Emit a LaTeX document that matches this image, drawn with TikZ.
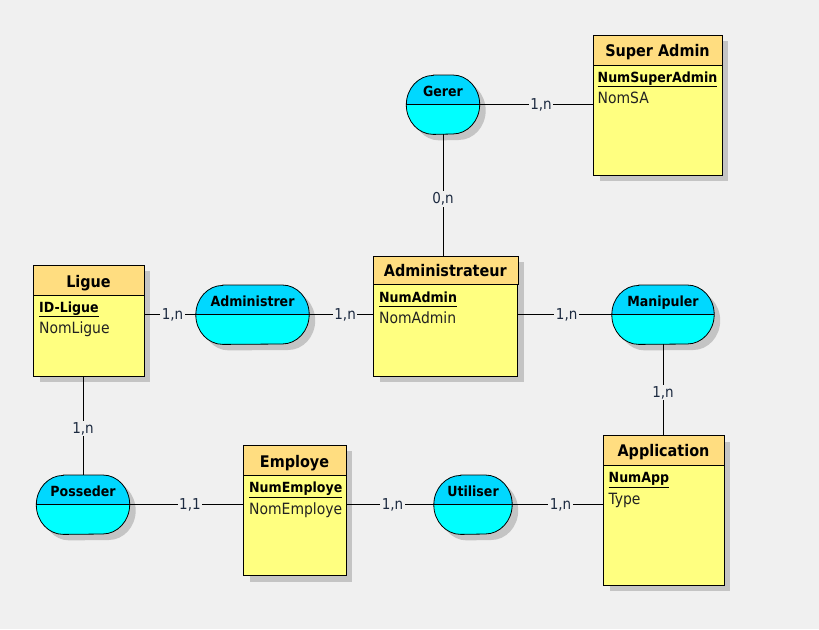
\documentclass[tikz,border=0pt]{standalone}
\usepackage{fontspec}
\setmainfont{DejaVu Sans Condensed}
\usetikzlibrary{shadows,calc}
\definecolor{bgc}{HTML}{F0F0F0}
\definecolor{headc}{HTML}{FFDD80}
\definecolor{bodyc}{HTML}{FFFF80}
\definecolor{atop}{HTML}{00D8FF}
\definecolor{abot}{HTML}{00FFFF}
\definecolor{shadowc}{HTML}{C4C4C4}
\definecolor{attrc}{HTML}{222222}
\definecolor{cardc}{HTML}{1C2A40}
\tikzset{
  myshadow/.style={drop shadow={shadow xshift=6pt,shadow yshift=-6pt,fill=shadowc,opacity=1}},
  entbody/.style={draw=black,fill=bodyc,inner sep=0pt,anchor=north west,myshadow},
  enthead/.style={draw=black,fill=headc},
  enttitle/.style={font=\bfseries\fontsize{16}{16}\selectfont,inner sep=0pt,anchor=base},
  attr/.style={font=\fontsize{15.5}{15.5}\selectfont,inner sep=0pt,anchor=base west,text=attrc},
  keyattr/.style={font=\bfseries\fontsize{14}{14}\selectfont,inner sep=0pt,anchor=base west,text=black},
  assocbox/.style={inner sep=0pt,minimum height=59pt},
  assocname/.style={font=\bfseries\fontsize{14}{14}\selectfont,inner sep=0pt,anchor=base},
  conn/.style={draw=black,line width=0.8pt},
  card/.style={font=\fontsize{15}{15}\selectfont,fill=bgc,text=cardc,inner sep=1.5pt},
}
% association outline: node name, x shift, y shift
\newcommand\ashapepath[3]{($(#1.north west)+(27+#2,#3)$) -- ($(#1.north east)+(-27+#2,#3)$)
  arc[start angle=-90,end angle=90,x radius=27,y radius=29.5]
  -- ($(#1.south west)+(27+#2,#3)$)
  arc[start angle=90,end angle=270,x radius=27,y radius=29.5] -- cycle}
\newcommand\assocdraw[2]{%
  \fill[shadowc] \ashapepath{#1}{6}{6};
  \fill[abot] \ashapepath{#1}{0}{0};
  \begin{scope}
    \clip \ashapepath{#1}{0}{0};
    \fill[atop] (#1.north west) rectangle (#1.east);
  \end{scope}
  \draw[line width=0.8pt] (#1.west) -- (#1.east);
  \draw[line width=0.8pt] \ashapepath{#1}{0}{0};
  \node[assocname] (#1T) at ($(#1.north)+(0,21)$) {#2};
}
\begin{document}
\begin{tikzpicture}[x=1pt,y=-1pt]
\fill[bgc] (0,0) rectangle (819,629);
\useasboundingbox (0,0) rectangle (819,629);

% ---------- Entities ----------
% Super Admin
\node[entbody,minimum width=128.4pt,minimum height=140pt] (superadmin) at (593.3,35) {};
\draw[enthead] (superadmin.north west) rectangle (superadmin.east |- 0,65);
\node[enttitle] (saT) at (657.5,56.5) {Super Admin};
\node[keyattr] (saK) at (597.5,82) {\underline{NumSuperAdmin}};
\node[attr] (saA) at (597.5,103.8) {NomSA};

% Ligue
\node[entbody,minimum width=110.4pt,minimum height=110.7pt] (ligue) at (33.3,265) {};
\draw[enthead] (ligue.north west) rectangle (ligue.east |- 0,295);
\node[enttitle] (liT) at (88.5,287.5) {Ligue};
\node[keyattr] (liK) at (39,312) {\underline{ID-Ligue\vphantom{p}}};
\node[attr] (liA) at (39,333.5) {NomLigue};

% Administrateur
\node[entbody,minimum width=144pt,minimum height=120pt] (admin) at (373.3,255.7) {};
\draw[enthead] (admin.north west) rectangle (admin.east |- 0,284.3);
\node[enttitle] (adT) at (445.3,276.8) {Administrateur};
\node[keyattr] (adK) at (379,302) {\underline{NumAdmin\vphantom{p}}};
\node[attr] (adA) at (379,323.8) {NomAdmin};

% Employe
\node[entbody,minimum width=102.4pt,minimum height=130.3pt] (employe) at (243.3,445) {};
\draw[enthead] (employe.north west) rectangle (employe.east |- 0,475);
\node[enttitle] (emT) at (294.5,467.5) {Employe};
\node[keyattr] (emK) at (249,492.6) {\underline{NumEmploye}};
\node[attr] (emA) at (249,514) {NomEmploye};

% Application
\node[entbody,minimum width=120.4pt,minimum height=149.7pt] (appli) at (603.3,435.3) {};
\draw[enthead] (appli.north west) rectangle (appli.east |- 0,465);
\node[enttitle] (apT) at (663.5,456.8) {Application};
\node[keyattr] (apK) at (608.5,482.6) {\underline{NumApp}};
\node[attr] (apA) at (608.5,504) {Type};

% ---------- Associations ----------
\node[assocbox,minimum width=73pt] (gerer) at (443,104.7) {};
\assocdraw{gerer}{Gerer}

\node[assocbox,minimum width=113pt] (administrer) at (252.5,314.7) {};
\assocdraw{administrer}{Administrer}

\node[assocbox,minimum width=102pt] (manipuler) at (663,314.7) {};
\assocdraw{manipuler}{Manipuler}

\node[assocbox,minimum width=93pt] (posseder) at (83,504.7) {};
\assocdraw{posseder}{Posseder}

\node[assocbox,minimum width=78pt] (utiliser) at (473,504.7) {};
\assocdraw{utiliser}{Utiliser}

% ---------- Connectors ----------
\draw[conn] (gerer.east) -- node[card,pos=0.54]{1,n} (superadmin.west |- gerer.east);
\draw[conn] (gerer.south) -- node[card,pos=0.53]{0,n} (admin.north -| gerer.south);
\draw[conn] (ligue.east |- administrer.west) -- node[card,pos=0.55]{1,n} (administrer.west);
\draw[conn] (administrer.east) -- node[card,pos=0.56]{1,n} (admin.west |- administrer.east);
\draw[conn] (admin.east |- manipuler.west) -- node[card,pos=0.52]{1,n} (manipuler.west);
\draw[conn] (manipuler.south) -- node[card,pos=0.53]{1,n} (appli.north -| manipuler.south);
\draw[conn] (ligue.south -| posseder.north) -- node[card,pos=0.53]{1,n} (posseder.north);
\draw[conn] (posseder.east) -- node[card,pos=0.53]{1,1} (employe.west |- posseder.east);
\draw[conn] (employe.east |- utiliser.west) -- node[card,pos=0.53]{1,n} (utiliser.west);
\draw[conn] (utiliser.east) -- node[card,pos=0.53]{1,n} (appli.west |- utiliser.east);
\end{tikzpicture}
\end{document}
